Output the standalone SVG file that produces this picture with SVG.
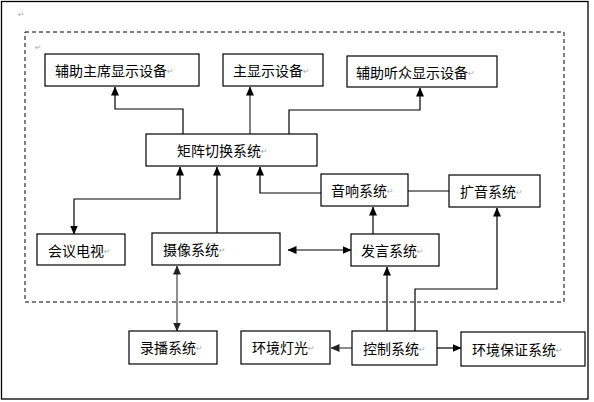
<svg xmlns="http://www.w3.org/2000/svg" width="594" height="402" viewBox="0 0 594 402">
<style>
.box{fill:#fff;stroke:#000;stroke-width:1.2}
.t{font-family:"Noto Sans CJK SC","Noto Sans",sans-serif;font-size:14px;fill:#000;dominant-baseline:central}
.r{font-family:"DejaVu Sans",sans-serif;font-size:8px;fill:#aaa;dominant-baseline:central}
.c{fill:none;stroke:#000;stroke-width:1.2}
.g{stroke:#808080;stroke-width:2}
.g2{stroke:#444}
</style>
<defs>
<marker id="a" markerUnits="userSpaceOnUse" markerWidth="9" markerHeight="8" refX="8.5" refY="4" orient="auto-start-reverse"><path d="M0,0 L9,4 L0,8 z" fill="#000"/></marker>
<marker id="ag" markerUnits="userSpaceOnUse" markerWidth="9" markerHeight="8" refX="8.5" refY="4" orient="auto-start-reverse"><path d="M0,0 L9,4 L0,8 z" fill="#222"/></marker>
</defs>
<rect x="0" y="0" width="594" height="402" fill="#fff"/>
<rect x="1.5" y="1.5" width="586.5" height="397.5" fill="none" stroke="#000" stroke-width="1.3"/>
<text class="r" x="18" y="14">↵</text>
<rect x="25" y="32" width="539" height="270" fill="none" stroke="#000" stroke-width="1" stroke-dasharray="4,3"/>
<text class="r" x="35" y="47">↵</text>

<g id="connectors">
<polyline class="c" points="183,134 183,109 115,109 115,87" marker-end="url(#a)"/>
<line class="c g" x1="250" y1="134" x2="250" y2="87" marker-end="url(#a)"/>
<polyline class="c" points="289,134 289,110 420,110 420,88" marker-end="url(#a)"/>
<polyline class="c" points="180,167 180,199 74,199 74,234" marker-start="url(#a)" marker-end="url(#a)"/>
<line class="c" x1="217" y1="233" x2="217" y2="167" marker-end="url(#a)"/>
<polyline class="c" points="321,193 260,193 260,167" marker-end="url(#a)"/>
<line class="c" x1="408" y1="191" x2="449" y2="191"/>
<line class="c" x1="373" y1="234" x2="373" y2="207" marker-end="url(#a)"/>
<line class="c" x1="288" y1="250" x2="351" y2="250" marker-start="url(#a)" marker-end="url(#a)"/>
<line class="c g2" x1="177" y1="266" x2="177" y2="331" marker-start="url(#ag)" marker-end="url(#ag)"/>
<line class="c" x1="387" y1="331" x2="387" y2="267" marker-end="url(#a)"/>
<polyline class="c" points="415,331 415,289 497,289 497,208" marker-end="url(#a)"/>
<line class="c g2" x1="352" y1="348" x2="331" y2="348" marker-end="url(#ag)"/>
<line class="c" x1="437" y1="348" x2="461" y2="348" marker-end="url(#a)"/>
</g>

<g id="n-fuzhu-zhuxi"><rect class="box" x="45" y="54" width="154" height="32"/><text class="t" x="55" y="70">辅助主席显示设备</text><text class="r" x="167" y="71">↵</text></g>
<g id="n-zhu-xianshi"><rect class="box" x="223" y="54" width="100" height="32"/><text class="t" x="233" y="70">主显示设备</text><text class="r" x="303" y="71">↵</text></g>
<g id="n-fuzhu-tingzhong"><rect class="box" x="347" y="56" width="150" height="31"/><text class="t" x="356" y="72">辅助听众显示设备</text><text class="r" x="468" y="73">↵</text></g>
<g id="n-juzhen"><rect class="box" x="146" y="134" width="171" height="32"/><text class="t" x="177" y="150">矩阵切换系统</text><text class="r" x="261" y="151">↵</text></g>
<g id="n-yinxiang"><rect class="box" x="321" y="174" width="87" height="32"/><text class="t" x="331" y="190">音响系统</text><text class="r" x="387" y="191">↵</text></g>
<g id="n-kuoyin"><rect class="box" x="449" y="175" width="91" height="32"/><text class="t" x="460" y="191">扩音系统</text><text class="r" x="516" y="192">↵</text></g>
<g id="n-huiyi"><rect class="box" x="37" y="234" width="88" height="31"/><text class="t" x="48" y="250">会议电视</text><text class="r" x="104" y="251">↵</text></g>
<g id="n-shexiang"><rect class="box" x="152" y="233" width="128" height="32"/><text class="t" x="163" y="249">摄像系统</text><text class="r" x="219" y="250">↵</text></g>
<g id="n-fayan"><rect class="box" x="351" y="234" width="88" height="32"/><text class="t" x="361" y="250">发言系统</text><text class="r" x="417" y="251">↵</text></g>
<g id="n-lubo"><rect class="box" x="129" y="331" width="88" height="33"/><text class="t" x="140" y="347">录播系统</text><text class="r" x="196" y="348">↵</text></g>
<g id="n-dengguang"><rect class="box" x="241" y="331" width="89" height="33"/><text class="t" x="252" y="347">环境灯光</text><text class="r" x="308" y="348">↵</text></g>
<g id="n-kongzhi"><rect class="box" x="352" y="331" width="85" height="34"/><text class="t" x="363" y="348">控制系统</text><text class="r" x="419" y="349">↵</text></g>
<g id="n-baozheng"><rect class="box" x="461" y="332" width="124" height="34"/><text class="t" x="472" y="349">环境保证系统</text><text class="r" x="556" y="350">↵</text></g>
</svg>
